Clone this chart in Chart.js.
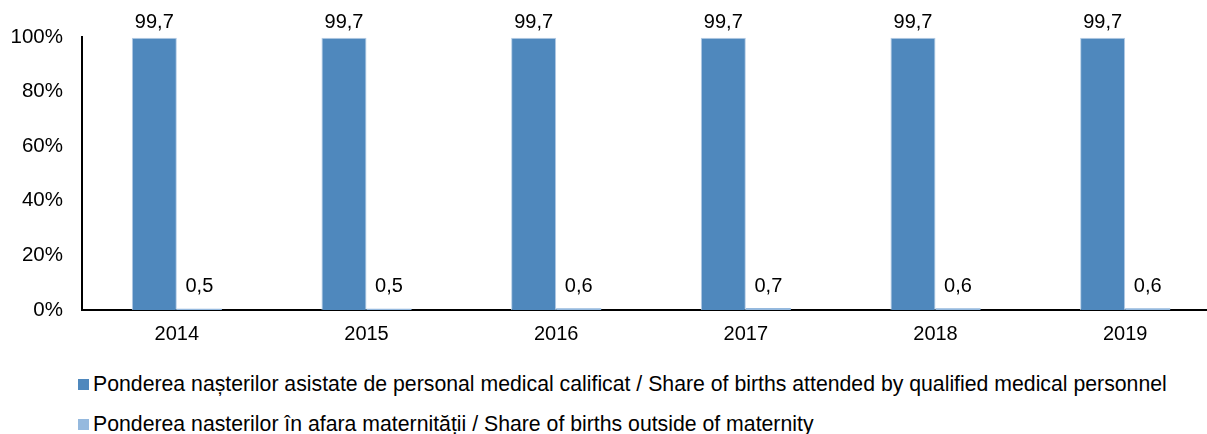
<!DOCTYPE html>
<html>
<head>
<meta charset="utf-8">
<script src="https://cdn.jsdelivr.net/npm/chart.js@4/dist/chart.umd.min.js"></script>
<style>
    html, body { margin: 0; padding: 0; background: #fff; overflow: hidden; }
    #wrap { width: 1207px; height: 434px; overflow: hidden; position: relative; }
    #box { position: absolute; left: 0; top: 0; width: 1220px; height: 358px; }
    #legend { position: absolute; left: 78px; top: 373px; font-family: "Liberation Sans", Arial, sans-serif; font-size: 21.25px; color: #000; }
    .item { display: flex; align-items: center; height: 22px; margin-bottom: 18px; white-space: nowrap; }
    .sw { width: 11px; height: 11px; margin-right: 4px; }
</style>
</head>
<body>
<div id="wrap">
    <div id="box"><canvas id="births"></canvas></div>
    <div id="legend"></div>
</div>
<script>
// Data
const years = ['2014', '2015', '2016', '2017', '2018', '2019'];
const qualifiedShare = [99.7, 99.7, 99.7, 99.7, 99.7, 99.7];
const outsideShare = [0.5, 0.5, 0.6, 0.7, 0.6, 0.6];
const yTicks = [0, 20, 40, 60, 80, 100];
const seriesNames = [
    'Ponderea nașterilor asistate de personal medical calificat / Share of births attended by qualified medical personnel',
    'Ponderea nasterilor în afara maternității / Share of births outside of maternity'
];
const seriesColors = ['#4f88bd', '#95b9de'];

const font = "'Liberation Sans', Arial, sans-serif";

// Value labels above bars, comma decimal
const valueLabels = {
    id: 'valueLabels',
    afterDatasetsDraw(chart) {
        const ctx = chart.ctx;
        ctx.save();
        ctx.font = '20px ' + font;
        ctx.fillStyle = '#000';
        ctx.textAlign = 'center';
        ctx.textBaseline = 'bottom';
        chart.data.datasets.forEach((ds, i) => {
            chart.getDatasetMeta(i).data.forEach((bar, j) => {
                const txt = ds.data[j].toFixed(1).replace('.', ',');
                ctx.fillText(txt, bar.x, bar.y - (i === 0 ? 5 : 12));
            });
        });
        ctx.restore();
    }
};

const chart = new Chart(document.getElementById('births'), {
    type: 'bar',
    data: {
        labels: years,
        datasets: [{
            label: seriesNames[0],
            data: qualifiedShare,
            backgroundColor: seriesColors[0],
            borderColor: '#b5cde6',
            borderWidth: 1,
            categoryPercentage: 0.475,
            barPercentage: 1
        }, {
            label: seriesNames[1],
            data: outsideShare,
            backgroundColor: seriesColors[1],
            categoryPercentage: 0.475,
            barPercentage: 1
        }]
    },
    options: {
        responsive: true,
        maintainAspectRatio: false,
        animation: false,
        layout: { padding: { top: 37, left: 8, right: 0, bottom: 0 } },
        plugins: {
            legend: { display: false },
            tooltip: { enabled: false }
        },
        scales: {
            x: {
                grid: { display: false, drawTicks: false },
                border: { color: '#000', width: 2 },
                ticks: { color: '#000', font: { family: font, size: 20 }, padding: 12 }
            },
            y: {
                min: 0,
                max: 100,
                afterBuildTicks: (axis) => { axis.ticks = yTicks.map(v => ({ value: v })); },
                afterFit: (axis) => { axis.width = 74; },
                grid: { display: false, drawTicks: false },
                border: { color: '#000', width: 2 },
                ticks: {
                    color: '#000',
                    font: { family: font, size: 20.5 },
                    padding: 19,
                    callback: v => v + '%'
                }
            }
        }
    },
    plugins: [valueLabels]
});

// HTML legend
const legendEl = document.getElementById('legend');
seriesNames.forEach((name, i) => {
    const row = document.createElement('div');
    row.className = 'item';
    row.innerHTML = '<span class="sw" style="background:' + seriesColors[i] + '"></span><span>' + name + '</span>';
    legendEl.appendChild(row);
});
</script>
</body>
</html>
